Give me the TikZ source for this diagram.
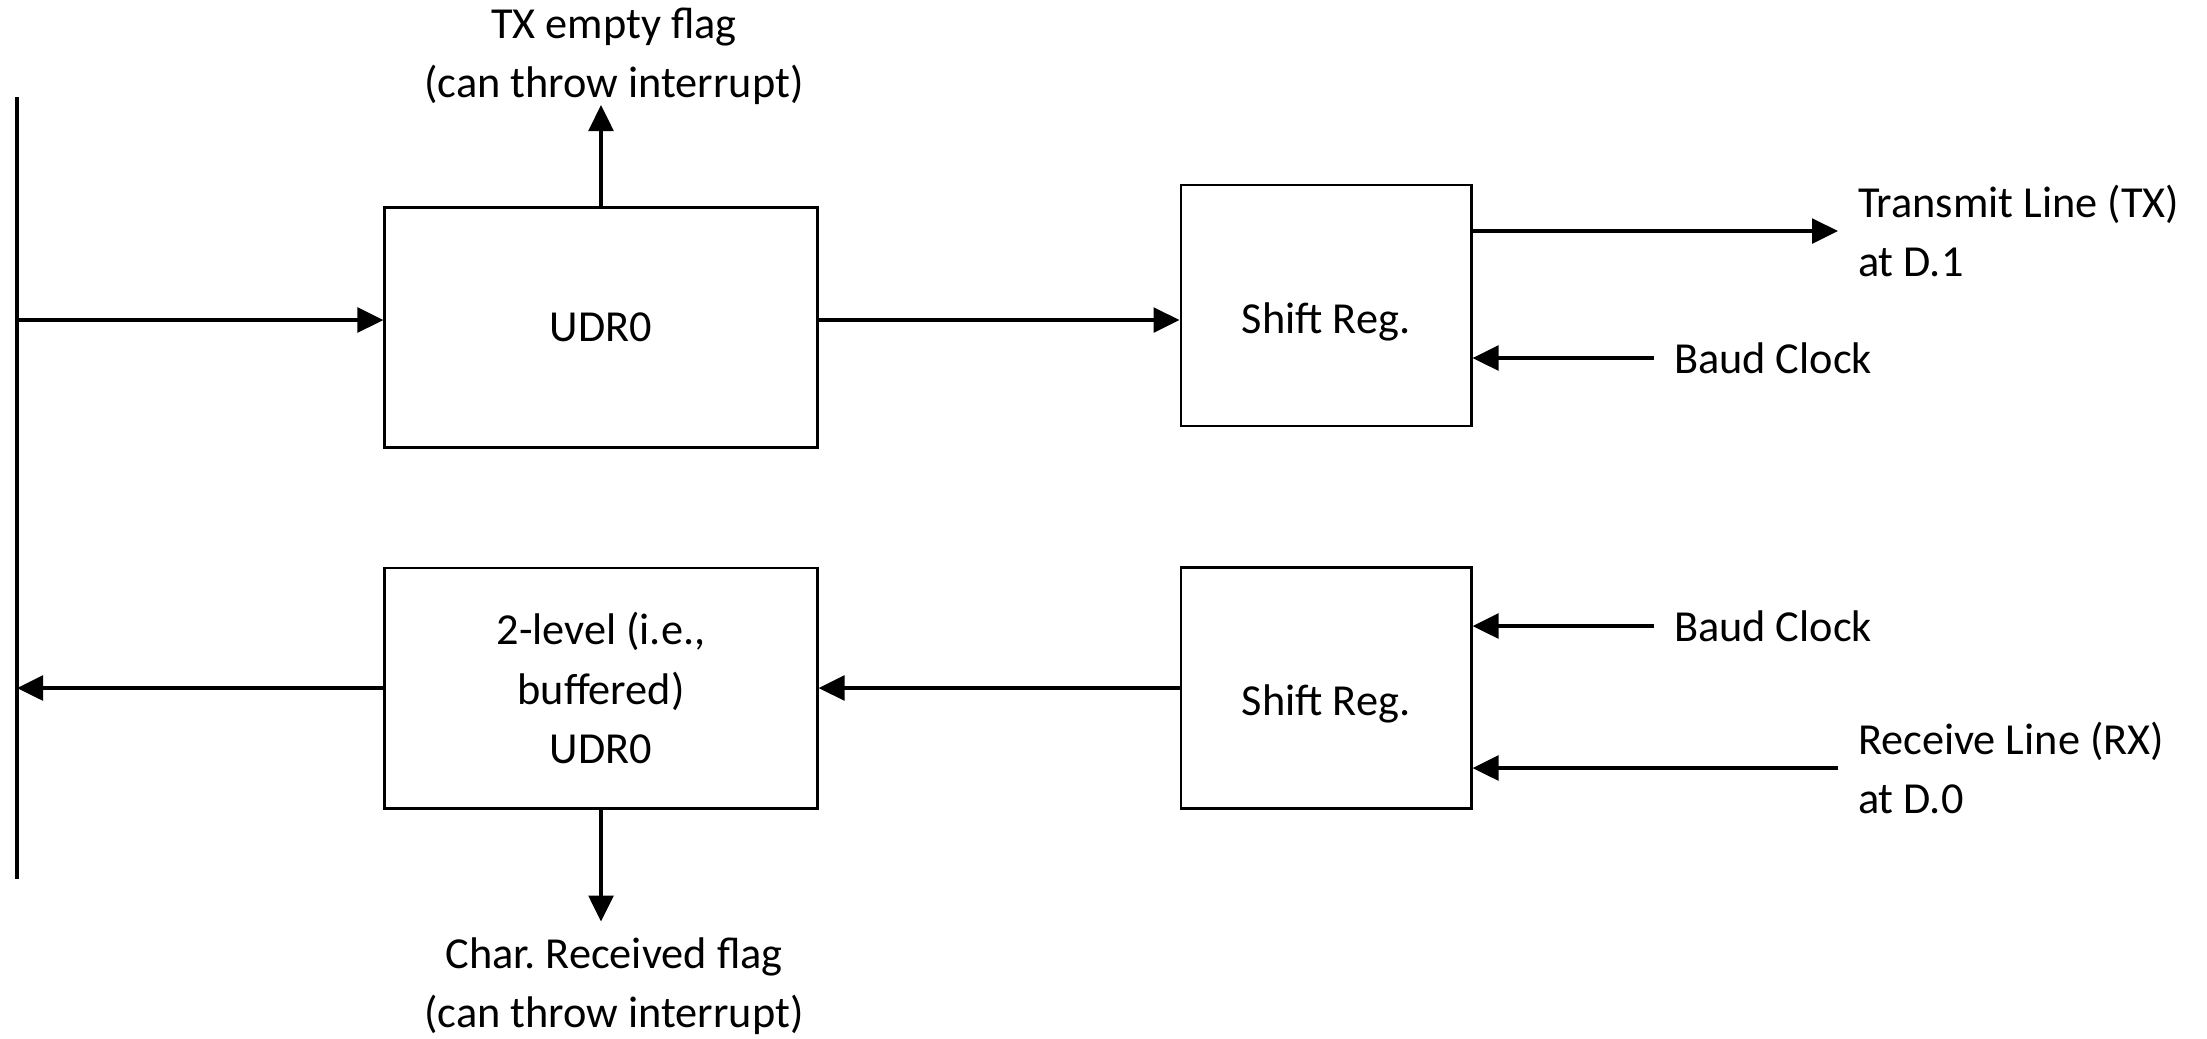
\documentclass[tikz,border=0pt]{standalone}
\usepackage{fontspec}
\setmainfont{Carlito}
\usepackage{tikz}
\usetikzlibrary{positioning}
\usetikzlibrary{arrows.meta}
\frenchspacing

\begin{document}
\begin{tikzpicture}[
  x=0.01cm, y=-0.01cm,
  font=\fontsize{12.6pt}{16.8pt}\selectfont,
  register/.style={draw, rectangle, line width=0.8pt, minimum width=4.32cm, minimum height=2.4cm, inner sep=0pt, align=center},
  shiftreg/.style={draw, rectangle, line width=0.8pt, minimum width=2.9cm, minimum height=2.41cm, inner sep=0pt},
  sig/.style={inner sep=0pt, outer xsep=0.2cm, align=left, anchor=west},
  flag/.style={inner sep=0pt, align=center},
  arr/.style={line width=1.1pt, -{Triangle[length=7.4pt,width=7pt]}},
  bus/.style={line width=1.2pt},
]
\useasboundingbox (0,0) rectangle (2207,1038);

% data bus
\coordinate (bustop) at (17,97);
\coordinate (busbot) at (17,879);
\coordinate (busin) at (17,320);
\draw[bus] (bustop) -- (busbot);

% transmit side
\node (udrtx) [register] at (601,327.5) {UDR0};
\node (shifttx) [shiftreg, label={[yshift=-0.16cm]center:Shift Reg.}] at (1326,305.5) {};
\node (txflag) [flag, above=1.01cm of udrtx, xshift=0.13cm] {TX empty flag\\(can throw interrupt)};
\node (txline) [sig] at (1838,231) {Transmit Line (TX)\\at D.1};
\node (baudtx) [sig] at (1654,358) {Baud Clock};

% receive side
\node (udrrx) [register] at (601,688) {2-level (i.e.,\\buffered)\\UDR0};
\node (shiftrx) [shiftreg, label={[yshift=-0.16cm]center:Shift Reg.}] at (1326,688) {};
\node (rxflag) [flag, below=1.27cm of udrrx, xshift=0.13cm] {Char. Received flag\\(can throw interrupt)};
\node (baudrx) [sig] at (1654,626) {Baud Clock};
\node (rxline) [sig] at (1838,768) {Receive Line (RX)\\at D.0};

\draw[arr] (busin) -- (busin -| udrtx.west);
\draw[arr] (busin -| udrtx.east) -- (busin -| shifttx.west);
\draw[arr] (shifttx.east |- txline.west) -- (txline.west);
\draw[arr] (baudtx.west) -- (baudtx.west -| shifttx.east);
\draw[arr] (udrtx.north) -- (udrtx.north |- txflag.south);

\draw[arr] (udrrx.west) -- (udrrx.west -| bustop);
\draw[arr] (shiftrx.west) -- (udrrx.east);
\draw[arr] (baudrx.west) -- (baudrx.west -| shiftrx.east);
\draw[arr] (rxline.west) -- (rxline.west -| shiftrx.east);
\draw[arr, shorten >=0.15cm] (udrrx.south) -- (udrrx.south |- rxflag.north);
\end{tikzpicture}
\end{document}
